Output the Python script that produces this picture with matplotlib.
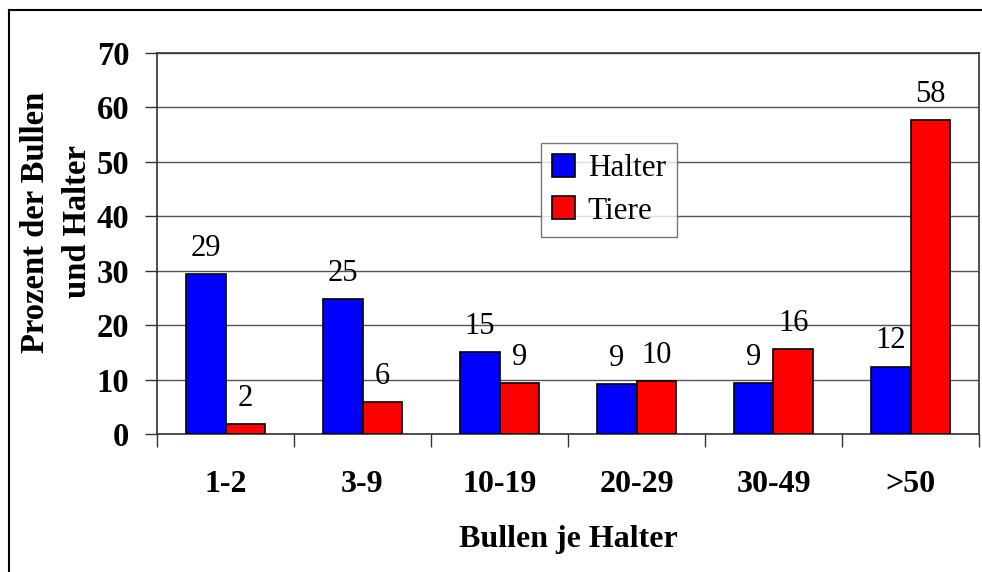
import numpy as np
import matplotlib
matplotlib.use('Agg')
import matplotlib.pyplot as plt
from matplotlib.lines import Line2D

# data
categories = ['1-2', '3-9', '10-19', '20-29', '30-49', '>50']
halter = [29.4, 24.8, 15.0, 9.1, 9.4, 12.4]
tiere = [1.8, 5.9, 9.4, 9.7, 15.6, 57.7]
series_names = ['Halter', 'Tiere']
yticks = [0, 10, 20, 30, 40, 50, 60, 70]

plt.rcParams['font.family'] = ['Liberation Serif', 'DejaVu Serif']

fig = plt.figure(figsize=(9.82, 5.72), dpi=100)
ax = fig.add_axes([157 / 982, 1 - 434 / 572, 822 / 982, 381 / 572])

x = np.arange(len(categories))
w = 0.29
b1 = ax.bar(x - w / 2, halter, w, color='#0000ff', edgecolor='black',
            linewidth=1.2, label=series_names[0], zorder=3)
b2 = ax.bar(x + w / 2, tiere, w, color='#ff0000', edgecolor='black',
            linewidth=1.2, label=series_names[1], zorder=3)
ax.bar_label(b1, fmt='%.0f', padding=8, fontsize=22)
ax.bar_label(b2, fmt='%.0f', padding=8, fontsize=22)

ax.set_xlim(-0.5, len(categories) - 0.5)
ax.set_ylim(0, 70)
ax.set_yticks(yticks)
ax.set_yticklabels([str(t) for t in yticks], fontsize=23.5, fontweight='bold')
ax.set_xticks(x)
ax.set_xticklabels(categories, fontsize=23, fontweight='bold')
ax.set_xticks(np.arange(-0.5, len(categories)), minor=True)
ax.tick_params(axis='x', which='major', length=0, pad=26)
ax.tick_params(axis='x', which='minor', length=9, width=1, color='#333333')
ax.tick_params(axis='y', length=9, width=1, pad=11, color='#333333')

ax.yaxis.grid(True, color='#555555', linewidth=1)
ax.set_axisbelow(True)
for s in ax.spines.values():
    s.set_color('#333333')
    s.set_linewidth(1.2)

ax.set_xlabel('Bullen je Halter', fontsize=23, fontweight='bold', labelpad=19)
fig.text(36 / 982, 1 - 222 / 572, 'Prozent der Bullen', rotation=90,
         fontsize=23.5, fontweight='bold', ha='center', va='center')
fig.text(78 / 982, 1 - 222 / 572, 'und Halter', rotation=90,
         fontsize=23.5, fontweight='bold', ha='center', va='center')

leg = ax.legend(loc='upper left', bbox_to_anchor=((541 - 157) / 822, (434 - 143) / 381),
                fontsize=22.5, frameon=True, fancybox=False, handlelength=0.75,
                handleheight=0.75, handletextpad=0.4, borderpad=0.35,
                labelspacing=0.42, borderaxespad=0)
leg.get_frame().set_edgecolor('#555555')
leg.get_frame().set_linewidth(1)

# outer chart border (only left and top edges fall inside the image)
fig.add_artist(Line2D([9 / 982, 9 / 982], [0, 1 - 10 / 572], color='black',
                      linewidth=1.5, transform=fig.transFigure))
fig.add_artist(Line2D([9 / 982, 1], [1 - 10 / 572, 1 - 10 / 572], color='black',
                      linewidth=1.5, transform=fig.transFigure))

fig.savefig('out.png', dpi=100)
